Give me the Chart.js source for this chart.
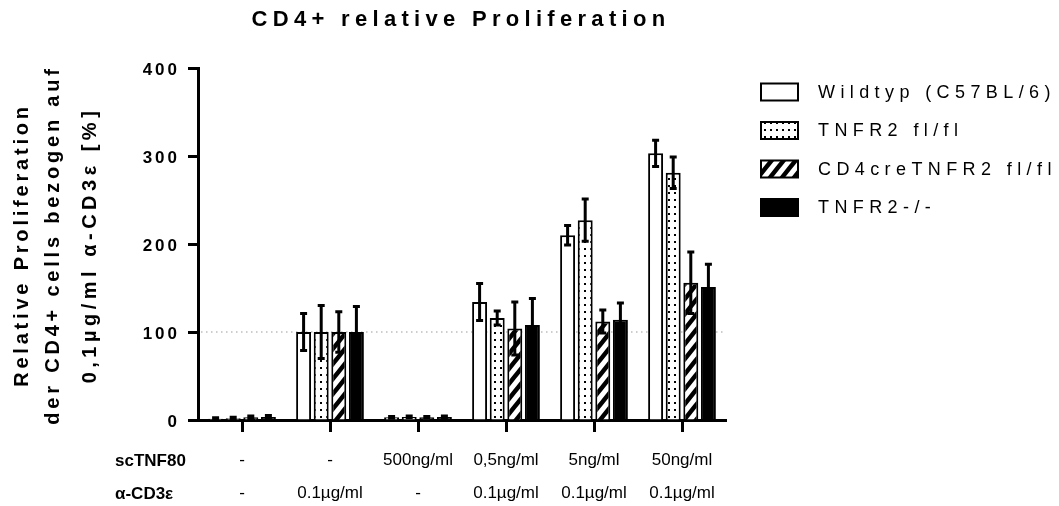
<!DOCTYPE html>
<html>
<head>
<meta charset="utf-8">
<script src="https://cdn.jsdelivr.net/npm/chart.js@4/dist/chart.umd.min.js"></script>
<style>
	html, body { margin: 0; padding: 0; background: #fff; }
	canvas { display: block; }
</style>
</head>
<body>
<canvas id="prolif" width="1059" height="506"></canvas>
<script>
// treatment per group (rows under the axis)
var scTNF80 = ['-', '-', '500ng/ml', '0,5ng/ml', '5ng/ml', '50ng/ml'];
var antiCD3 = ['-', '0.1\u00b5g/ml', '-', '0.1\u00b5g/ml', '0.1\u00b5g/ml', '0.1\u00b5g/ml'];
var rowHeaders = ['scTNF80', '\u03b1-CD3\u03b5'];

var seriesNames = ['Wildtyp (C57BL/6)', 'TNFR2 fl/fl', 'CD4creTNFR2 fl/fl', 'TNFR2-/-'];

// mean values [%] and SEM
var wildtyp    = [1.5, 100, 3, 134, 210, 303];
var wildtypErr = [1, 21, 1, 21, 11, 15];
var flfl       = [2, 100, 3.5, 116, 227, 281];
var flflErr    = [1, 30, 1, 8, 24, 18];
var cd4cre     = [3, 100, 3, 104, 112, 156];
var cd4creErr  = [1.5, 23, 1, 30, 13, 35];
var knockout   = [3.5, 100, 3.5, 108, 114, 151];
var knockoutErr = [1.5, 29, 1, 30, 19, 26];

var yTicks = [0, 100, 200, 300, 400];
var refLine = 100;

function dotPattern(ctx)
{
	var c = document.createElement('canvas');
	c.width = 6; c.height = 7;
	var g = c.getContext('2d');
	g.fillStyle = '#fff';
	g.fillRect(0, 0, 6, 7);
	g.fillStyle = '#000';
	g.fillRect(2, 3, 2, 2);
	return ctx.createPattern(c, 'repeat');
}

function stripePattern(ctx)
{
	var w = 12, h = 15;
	var c = document.createElement('canvas');
	c.width = w; c.height = h;
	var g = c.getContext('2d');
	g.fillStyle = '#fff';
	g.fillRect(0, 0, w, h);
	g.strokeStyle = '#000';
	g.lineWidth = 4.5;
	g.beginPath();
	g.moveTo(-w, h); g.lineTo(w, -h);
	g.moveTo(-w, 2 * h); g.lineTo(2 * w, -h);
	g.moveTo(0, 2 * h); g.lineTo(2 * w, 0);
	g.stroke();
	return ctx.createPattern(c, 'repeat');
}

var canvas = document.getElementById('prolif');
var ctx = canvas.getContext('2d');
var fills = ['#fff', dotPattern(ctx), stripePattern(ctx), '#000'];
var errs = [wildtypErr, flflErr, cd4creErr, knockoutErr];

var labels = scTNF80.map(function(s, i) { return [s, antiCD3[i]]; });

var datasets = [wildtyp, flfl, cd4cre, knockout].map(function(vals, i) {
	return {
		label: seriesNames[i],
		data: vals,
		errors: errs[i],
		backgroundColor: fills[i],
		borderColor: '#000',
		borderWidth: 2,
		categoryPercentage: 0.8,
		barPercentage: 0.85
	};
});

// dotted 100 % line behind the bars
var refLinePlugin = {
	id: 'refLine',
	beforeDatasetsDraw: function(chart) {
		var c = chart.ctx, a = chart.chartArea;
		var y = chart.scales.y.getPixelForValue(refLine);
		c.save();
		c.strokeStyle = '#bdbdbd';
		c.lineWidth = 1.5;
		c.setLineDash([1.5, 3.5]);
		c.beginPath();
		c.moveTo(a.left + 3, y);
		c.lineTo(a.right, y);
		c.stroke();
		c.restore();
	}
};

var errorBarPlugin = {
	id: 'errorBars',
	afterDatasetsDraw: function(chart) {
		var c = chart.ctx, yScale = chart.scales.y;
		c.save();
		c.strokeStyle = '#000';
		c.lineWidth = 3;
		chart.data.datasets.forEach(function(ds, di) {
			var meta = chart.getDatasetMeta(di);
			meta.data.forEach(function(bar, i) {
				var v = ds.data[i], e = ds.errors[i];
				var yTop = yScale.getPixelForValue(v + e);
				var yBot = yScale.getPixelForValue(Math.max(0, v - e));
				c.beginPath();
				c.moveTo(bar.x, yTop); c.lineTo(bar.x, yBot);
				c.moveTo(bar.x - 3.5, yTop); c.lineTo(bar.x + 3.5, yTop);
				c.moveTo(bar.x - 3.5, yBot); c.lineTo(bar.x + 3.5, yBot);
				c.stroke();
			});
		});
		c.restore();
	}
};

// spaced texts: title, y ticks, y title, legend, row headers
var textPlugin = {
	id: 'texts',
	afterDraw: function(chart) {
		var c = chart.ctx, yScale = chart.scales.y;
		c.save();
		c.fillStyle = '#000';

		c.font = 'bold 22px "Liberation Sans", Arial, sans-serif';
		c.letterSpacing = '5.3px';
		c.textAlign = 'center';
		c.textBaseline = 'middle';
		c.fillText('CD4+ relative Proliferation', 461, 20);

		c.font = 'bold 17px "Liberation Sans", Arial, sans-serif';
		c.letterSpacing = '3px';
		c.textAlign = 'right';
		yTicks.forEach(function(v) {
			c.fillText(String(v), 180, yScale.getPixelForValue(v) + 2);
		});

		c.save();
		c.translate(0, 245);
		c.rotate(-Math.PI / 2);
		c.textAlign = 'center';
		c.font = 'bold 20px "Liberation Sans", Arial, sans-serif';
		c.letterSpacing = '3.8px';
		c.fillText('Relative Proliferation', 0, 22);
		c.fillText('der CD4+ cells bezogen auf', 0, 53);
		c.letterSpacing = '4.5px';
		c.fillText('0,1\u00b5g/ml \u03b1-CD3\u03b5 [%]', 0, 90);
		c.restore();

		c.textAlign = 'left';
		c.font = '18px "Liberation Sans", Arial, sans-serif';
		c.letterSpacing = '5.4px';
		chart.data.datasets.forEach(function(ds, i) {
			var cy = 92 + i * 38.5;
			c.fillStyle = ds.backgroundColor;
			c.fillRect(761, cy - 8.5, 37, 17);
			c.strokeStyle = '#000';
			c.lineWidth = 2;
			c.strokeRect(761, cy - 8.5, 37, 17);
			c.fillStyle = '#000';
			c.fillText(ds.label, 818, cy + 1);
		});

		c.letterSpacing = '0px';
		c.font = 'bold 17px "Liberation Sans", Arial, sans-serif';
		c.fillText(rowHeaders[0], 115, 461);
		c.fillText(rowHeaders[1], 115, 494);
		c.restore();
	}
};

new Chart(canvas, {
	type: 'bar',
	data: { labels: labels, datasets: datasets },
	options: {
		responsive: false,
		animation: false,
		layout: { padding: { left: 0, right: 333, top: 68, bottom: 0 } },
		plugins: {
			legend: { display: false },
			title: { display: false },
			tooltip: { enabled: false }
		},
		scales: {
			x: {
				grid: { drawOnChartArea: false, offset: false, tickLength: 12, tickWidth: 3, tickColor: '#000' },
				border: { display: true, width: 3, color: '#000' },
				ticks: {
					autoSkip: false, maxRotation: 0, color: '#000', padding: 12,
					font: { family: '"Liberation Sans", Arial, sans-serif', size: 17, lineHeight: 1.94 }
				},
				afterFit: function(scale) { scale.height = 86; }
			},
			y: {
				min: 0, max: 400,
				ticks: { stepSize: 100, display: false },
				grid: { drawOnChartArea: false, tickLength: 10, tickWidth: 3, tickColor: '#000' },
				border: { display: true, width: 3, color: '#000' },
				afterFit: function(scale) { scale.width = 198; }
			}
		}
	},
	plugins: [refLinePlugin, errorBarPlugin, textPlugin]
});
</script>
</body>
</html>
